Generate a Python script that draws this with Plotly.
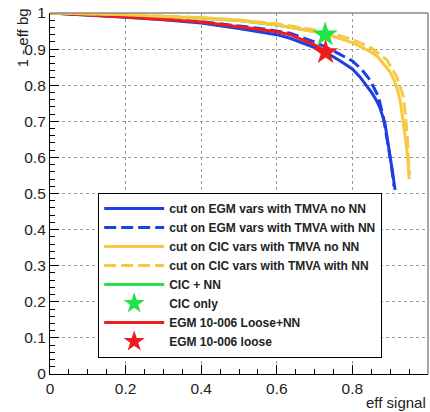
import plotly.graph_objects as go

# ---- data ----
egm_noNN_x = [0, 0.1, 0.2, 0.3, 0.4, 0.5, 0.55, 0.6, 0.635, 0.68, 0.723, 0.767, 0.8, 0.82, 0.838, 0.852, 0.864, 0.873, 0.886, 0.899, 0.906, 0.913]
egm_noNN_y = [1.0, 0.995, 0.988, 0.981, 0.972, 0.957, 0.948, 0.94, 0.93, 0.913, 0.895, 0.868, 0.845, 0.823, 0.798, 0.778, 0.757, 0.737, 0.695, 0.615, 0.56, 0.51]

egm_NN_x = [0, 0.2, 0.4, 0.5, 0.55, 0.6, 0.635, 0.7, 0.75, 0.8, 0.825, 0.847, 0.869, 0.882, 0.893, 0.903, 0.91]
egm_NN_y = [1.0, 0.991, 0.976, 0.965, 0.958, 0.95, 0.944, 0.92, 0.895, 0.867, 0.843, 0.814, 0.768, 0.71, 0.645, 0.58, 0.52]

cic_noNN_x = [0, 0.1, 0.2, 0.3, 0.4, 0.5, 0.6, 0.65, 0.7, 0.75, 0.8, 0.84, 0.864, 0.88, 0.899, 0.91, 0.917, 0.926, 0.935, 0.942, 0.947, 0.95]
cic_noNN_y = [1.0, 0.998, 0.995, 0.99, 0.985, 0.979, 0.967, 0.958, 0.948, 0.935, 0.918, 0.897, 0.882, 0.862, 0.838, 0.815, 0.795, 0.76, 0.70, 0.64, 0.59, 0.54]

cic_NN_x = [0, 0.2, 0.4, 0.5, 0.6, 0.7, 0.75, 0.8, 0.85, 0.891, 0.917, 0.935, 0.94, 0.945, 0.948, 0.951]
cic_NN_y = [1.0, 0.996, 0.987, 0.981, 0.97, 0.953, 0.942, 0.927, 0.903, 0.87, 0.824, 0.768, 0.72, 0.66, 0.60, 0.55]

cicNN_line_x = [0, 0.2, 0.4, 0.5, 0.6, 0.65, 0.7, 0.73]
cicNN_line_y = [1.0, 0.994, 0.986, 0.979, 0.967, 0.958, 0.949, 0.939]

cic_only_x = [0.728]
cic_only_y = [0.94]

egm_loose_NN_x = [0, 0.1, 0.2, 0.3, 0.4, 0.5, 0.55, 0.6, 0.635, 0.7, 0.73]
egm_loose_NN_y = [1.0, 0.995, 0.989, 0.982, 0.975, 0.962, 0.955, 0.948, 0.94, 0.912, 0.893]

egm_loose_x = [0.729]
egm_loose_y = [0.891]

labels = [
    "cut on EGM vars with TMVA no NN",
    "cut on EGM vars with TMVA with NN",
    "cut on CIC vars with TMVA no NN",
    "cut on CIC vars with TMVA with NN",
    "CIC + NN",
    "CIC only",
    "EGM 10-006 Loose+NN",
    "EGM 10-006 loose",
]

BLUE = "#1c3fe6"
YELLOW = "#f7c840"
GREEN = "#22e24a"
RED = "#ee1c1c"
DASH = "12px,5px"

fig = go.Figure()

def line(x, y, name, color, dash, rank):
    fig.add_trace(go.Scatter(x=x, y=y, mode="lines", name=name, legendrank=rank,
                             line=dict(color=color, width=3, dash=dash)))

def star(x, y, name, color, rank):
    fig.add_trace(go.Scatter(x=x, y=y, mode="markers", name=name, legendrank=rank,
                             marker=dict(symbol="star", size=19, color=color,
                                         line=dict(width=0))))

# draw order (legend order set by legendrank)
line(cicNN_line_x, cicNN_line_y, labels[4], GREEN, "solid", 5)
line(egm_noNN_x, egm_noNN_y, labels[0], BLUE, "solid", 1)
line(egm_NN_x, egm_NN_y, labels[1], BLUE, DASH, 2)
line(egm_loose_NN_x, egm_loose_NN_y, labels[6], RED, "solid", 7)
line(cic_noNN_x, cic_noNN_y, labels[2], YELLOW, "solid", 3)
line(cic_NN_x, cic_NN_y, labels[3], YELLOW, DASH, 4)
star(cic_only_x, cic_only_y, labels[5], GREEN, 6)
star(egm_loose_x, egm_loose_y, labels[7], RED, 8)

FONT = "Liberation Sans, Arial, sans-serif"

axis_common = dict(
    showline=True, linecolor="black", linewidth=1.2,
    ticks="inside", ticklen=9, tickcolor="black", tickwidth=1,
    showgrid=True, gridcolor="#999999", griddash="dot", gridwidth=1,
    zeroline=False, mirror=False,
    tickfont=dict(family=FONT, size=15.5, color="#222222"),
)

fig.update_xaxes(range=[0, 1], dtick=0.2, tick0=0,
                 minor=dict(dtick=0.05, ticks="inside", ticklen=5, tickcolor="black", showgrid=False),
                 **axis_common)
fig.update_yaxes(range=[0, 1], dtick=0.1, tick0=0,
                 minor=dict(dtick=0.02, ticks="inside", ticklen=5, tickcolor="black", showgrid=False),
                 **axis_common)

# gray top/right frame
fig.add_shape(type="line", xref="paper", yref="paper", x0=0, x1=1, y0=1, y1=1,
              line=dict(color="#888888", width=1.5))
fig.add_shape(type="line", xref="paper", yref="paper", x0=1, x1=1, y0=0, y1=1,
              line=dict(color="#888888", width=1.5))

fig.add_annotation(text="1 - eff bg", xref="paper", yref="paper", x=-0.074, y=0.93,
                   textangle=-90, showarrow=False, xanchor="center", yanchor="middle",
                   font=dict(family=FONT, size=15, color="#222222"))
fig.add_annotation(text="eff signal", xref="paper", yref="paper", x=1.0, y=-0.078,
                   showarrow=False, xanchor="right", yanchor="middle",
                   font=dict(family=FONT, size=15, color="#222222"))

fig.update_layout(
    width=430, height=412,
    margin=dict(l=50, r=2, t=13, b=38),
    plot_bgcolor="white", paper_bgcolor="white",
    showlegend=True,
    legend=dict(x=0.127, y=0.502, xanchor="left", yanchor="top",
                bgcolor="white", bordercolor="black", borderwidth=1.2,
                font=dict(family=FONT, size=12, color="#222222", weight="bold"),
                itemwidth=60, tracegroupgap=0),
)

fig.write_html("out.html", config={"displayModeBar": False},
               post_script="document.body.style.margin='0';document.body.style.overflow='hidden';")
